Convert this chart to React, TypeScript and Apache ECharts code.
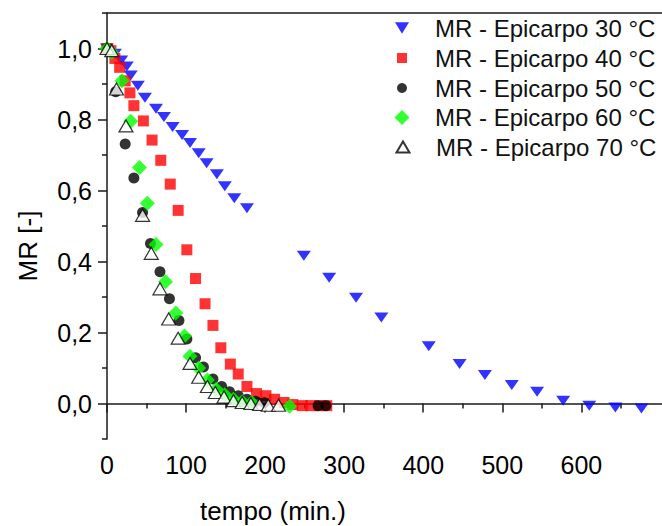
import React, { useEffect, useRef } from 'react';
import * as echarts from 'echarts';

// ---- data (tempo in min, MR [-]) ----
const t30 = [0, 10, 18, 25, 30, 39, 48, 62, 72, 83, 95, 105, 116, 126, 139, 149, 161, 177, 249, 281, 315, 347, 407, 446, 478, 512, 544, 577, 610, 643, 676];
const mr30 = [1.0, 0.985, 0.966, 0.949, 0.924, 0.895, 0.861, 0.83, 0.807, 0.779, 0.756, 0.734, 0.705, 0.677, 0.646, 0.612, 0.578, 0.55, 0.416, 0.354, 0.298, 0.242, 0.161, 0.111, 0.08, 0.052, 0.033, 0.008, -0.006, -0.011, -0.014];

const t40 = [0, 5, 10, 16, 23, 29, 34, 46, 57, 68, 80, 90, 101, 112, 124, 134, 144, 156, 166, 177, 189, 201, 212, 224, 235, 247, 258, 269, 278];
const mr40 = [1.0, 0.994, 0.972, 0.947, 0.909, 0.875, 0.839, 0.796, 0.742, 0.685, 0.618, 0.544, 0.433, 0.352, 0.281, 0.22, 0.157, 0.111, 0.083, 0.048, 0.028, 0.022, 0.012, 0.003, -0.003, -0.006, -0.006, -0.006, -0.006];

const t50 = [0, 11, 23, 34, 45, 55, 67, 79, 91, 101, 112, 122, 134, 145, 155, 166, 177, 188, 199, 267, 277];
const mr50 = [1.0, 0.878, 0.731, 0.635, 0.538, 0.451, 0.371, 0.295, 0.234, 0.182, 0.129, 0.103, 0.069, 0.048, 0.033, 0.022, 0.012, 0.006, 0.002, -0.006, -0.006];

const t60 = [0, 6, 19, 30, 41, 51, 62, 74, 87, 98, 105, 116, 127, 138, 149, 160, 171, 183, 231];
const mr60 = [1.0, 0.989, 0.909, 0.795, 0.665, 0.564, 0.448, 0.343, 0.255, 0.19, 0.133, 0.1, 0.066, 0.04, 0.025, 0.012, 0.005, 0.003, -0.008];

const t70 = [0, 6, 12, 24, 45, 56, 67, 78, 90, 105, 116, 127, 137, 148, 160, 171, 182, 193, 204, 217];
const mr70 = [1.0, 0.994, 0.886, 0.782, 0.53, 0.423, 0.323, 0.238, 0.184, 0.113, 0.074, 0.048, 0.031, 0.018, 0.008, 0.003, 0.0, -0.003, -0.005, -0.005];

const seriesNames = [
  'MR - Epicarpo 30 °C',
  'MR - Epicarpo 40 °C',
  'MR - Epicarpo 50 °C',
  'MR - Epicarpo 60 °C',
  'MR - Epicarpo 70 °C',
];

const xMajorTicks = [0, 100, 200, 300, 400, 500, 600];
const xMinorTicks = [50, 150, 250, 350, 450, 550, 650];
const yMajorTicks = [0, 0.2, 0.4, 0.6, 0.8, 1.0];
const yMinorTicks = [-0.1, 0.1, 0.3, 0.5, 0.7, 0.9, 1.1];

const xTitle = 'tempo (min.)';
const yTitle = 'MR [-]';

const pair = (xs: number[], ys: number[]) => xs.map((x, i) => [x, ys[i]]);

export default function App() {
  const ref = useRef<HTMLDivElement>(null);

  useEffect(() => {
    if (!ref.current) return;
    const chart = echarts.init(ref.current, null, { renderer: 'svg' });
    const font = 'Arial, "Liberation Sans", sans-serif';
    const axisColor = '#1a1a1a';
    const X_MIN = 0;
    const X_MAX = 702;
    const Y_MIN = -0.1;
    const Y_MAX = 1.1;

    const downTri = 'path://M0,0 L12,0 L6,10 Z';

    const seriesDefs = [
      { name: seriesNames[0], data: pair(t30, mr30), symbol: downTri, symbolSize: [14, 12], itemStyle: { color: '#0000ff' } },
      { name: seriesNames[1], data: pair(t40, mr40), symbol: 'rect', symbolSize: 11, itemStyle: { color: '#ff0000' } },
      { name: seriesNames[2], data: pair(t50, mr50), symbol: 'circle', symbolSize: 11, itemStyle: { color: '#000000' } },
      { name: seriesNames[3], data: pair(t60, mr60), symbol: 'diamond', symbolSize: 15, itemStyle: { color: '#00ff00' } },
      { name: seriesNames[4], data: pair(t70, mr70), symbol: 'triangle', symbolSize: [14, 12], itemStyle: { color: '#ffffff', borderColor: '#000000', borderWidth: 1.2 } },
    ];

    const legendIcon = [
      { w: 14, h: 12 },
      { w: 10, h: 10 },
      { w: 10, h: 10 },
      { w: 15, h: 15 },
      { w: 13, h: 11 },
    ];
    const legendIconCenterX = 402;
    const legendTextX = 435;
    const legendRowY = [28, 58, 88, 117.5, 147];
    const legendFont = 24;

    const legends = seriesNames.map((name, i) => {
      const { w, h } = legendIcon[i];
      const left = legendIconCenterX - w / 2;
      const pad = legendTextX - (left + w + 5);
      return {
        data: [name],
        orient: 'vertical',
        selectedMode: false,
        left,
        top: legendRowY[i] - legendFont / 2,
        itemWidth: w,
        itemHeight: h,
        padding: 0,
        textStyle: { fontSize: legendFont, color: '#111111', fontFamily: font, padding: [0, 0, 0, pad] },
      };
    });

    chart.setOption({
      animation: false,
      backgroundColor: '#ffffff',
      grid: { left: 107, top: 13, right: 0, bottom: 87, containLabel: false },
      legend: legends,
      xAxis: [
        {
          type: 'value', min: X_MIN, max: X_MAX, position: 'bottom',
          axisLine: { show: true, lineStyle: { color: axisColor, width: 1.5 } },
          axisTick: { show: true, customValues: xMajorTicks, length: 9, lineStyle: { color: axisColor, width: 1.5 } },
          axisLabel: { customValues: xMajorTicks, margin: 13, fontSize: 25, color: '#000', fontFamily: font },
          splitLine: { show: false },
        },
        {
          type: 'value', min: X_MIN, max: X_MAX, position: 'bottom',
          axisLine: { show: false },
          axisTick: { show: true, customValues: xMinorTicks, length: 5, lineStyle: { color: axisColor, width: 1.5 } },
          axisLabel: { show: false },
          splitLine: { show: false },
        },
        {
          type: 'value', min: X_MIN, max: X_MAX, position: 'top',
          axisLine: { show: true, lineStyle: { color: axisColor, width: 1.5 } },
          axisTick: { show: false },
          axisLabel: { show: false },
          splitLine: { show: false },
        },
      ],
      yAxis: [
        {
          type: 'value', min: Y_MIN, max: Y_MAX, position: 'left',
          axisLine: { show: true, lineStyle: { color: axisColor, width: 1.5 } },
          axisTick: { show: true, customValues: yMajorTicks, length: 9, lineStyle: { color: axisColor, width: 1.5 } },
          axisLabel: {
            customValues: yMajorTicks, margin: 15, fontSize: 25, color: '#000', fontFamily: font,
            formatter: (v: number) => v.toFixed(1).replace('.', ','),
          },
          splitLine: { show: false },
        },
        {
          type: 'value', min: Y_MIN, max: Y_MAX, position: 'left',
          axisLine: { show: false },
          axisTick: { show: true, customValues: yMinorTicks, length: 5, lineStyle: { color: axisColor, width: 1.5 } },
          axisLabel: { show: false },
          splitLine: { show: false },
        },
      ],
      graphic: [
        {
          type: 'text', x: 273, y: 511, z: 10,
          style: { text: xTitle, fontSize: 26, fontFamily: font, fill: '#000', align: 'center', verticalAlign: 'middle' },
        },
        {
          type: 'text', x: 28, y: 246, rotation: Math.PI / 2, z: 10,
          style: { text: yTitle, fontSize: 26, fontFamily: font, fill: '#000', align: 'center', verticalAlign: 'middle' },
        },
      ],
      series: seriesDefs.map((s) => ({
        type: 'scatter',
        xAxisIndex: 0,
        yAxisIndex: 0,
        symbolKeepAspect: true,
        ...s,
      })),
    });

    return () => chart.dispose();
  }, []);

  return <div ref={ref} style={{ position: 'absolute', left: 0, top: 0, width: 662, height: 526 }} />;
}
